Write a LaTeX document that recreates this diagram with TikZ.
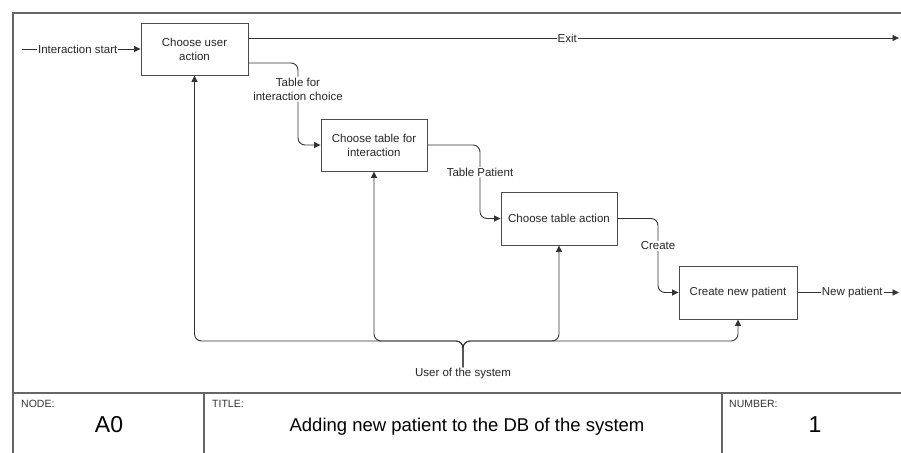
\documentclass[tikz,border=0pt]{standalone}
\usepackage{fontspec}
\setmainfont{Liberation Sans}
\usetikzlibrary{arrows.meta,calc}
\tikzset{
  frame/.style={draw=black!60, line width=1.4pt},
  box/.style={draw=black!70, line width=0.9pt, fill=white, align=center, inner sep=1pt, font=\fontsize{11.5}{14}\selectfont, text=black!85},
  conn/.style={draw=black!80, line width=0.9pt, -{Triangle[length=6.5pt,width=6pt]}},
  lbl/.style={fill=white, inner sep=1pt, align=center, font=\fontsize{11.5}{14.5}\selectfont, text=black!85},
  head/.style={anchor=west, inner sep=0pt, font=\fontsize{10.5}{12}\selectfont, text=black!80},
  big/.style={inner sep=0pt, font=\fontsize{23}{26}\selectfont},
  ttl/.style={inner sep=0pt, font=\fontsize{18.5}{22}\selectfont}
}
\begin{document}
\begin{tikzpicture}[x=1pt,y=-1pt]
\useasboundingbox (0,0) rectangle (901,452);
\clip (0,0) rectangle (901,452);
\fill[white] (0,0) rectangle (901,452);
% outer frame
\draw[frame] (13,470) -- (13,13) -- (920,13);
% boxes
\node[box, minimum width=107pt, minimum height=52pt] (b1) at (194.5,49) {Choose user\\action};
\node[box, minimum width=106pt, minimum height=52pt] (b2) at (374,145) {Choose table for\\interaction};
\node[box, minimum width=116pt, minimum height=53pt] (b3) at (559,218.5) {Choose table action};
\node[box, minimum width=118pt, minimum height=53pt] (b4) at (738,292.5) {Create new patient};
% free ends
\coordinate (s) at (22,49);
\coordinate (exitend) at (899,38);
\coordinate (outend) at (899,292.5);
% inputs / outputs
\draw[conn] (s) -- node[lbl, pos=0.47]{Interaction start} (b1.west);
\draw[conn] (b1.east |- 0,38) -- node[lbl, pos=0.49]{Exit} (exitend);
\draw[conn, rounded corners=7pt] (b1.east |- 0,63) -- (298,63) -- node[lbl, pos=0.32]{Table for\\interaction choice} (298,145) -- (b2.west);
\draw[conn, rounded corners=7pt] (b2.east) -- (480,145) -- node[lbl, pos=0.37]{Table Patient} (480,218.5) -- (b3.west);
\draw[conn, rounded corners=7pt] (b3.east) -- (658,218.5) -- node[lbl, pos=0.37]{Create} (658,292.5) -- (b4.west);
\draw[conn] (b4.east) -- node[lbl, pos=0.54]{New patient} (outend);
% mechanism
\node[lbl] (u) at (463,374) {User of the system};
\coordinate (h) at (463,341);
\draw[conn, rounded corners=7pt] (u.north) -- (h) -| (b1.south);
\draw[conn, rounded corners=7pt] (u.north) -- (h) -| (b4.south);
\draw[conn] (u.north) [rounded corners=7pt] -- (h) -- (b2.south |- h) [sharp corners] -- (b2.south);
\draw[conn] (u.north) [rounded corners=7pt] -- (h) -- (b3.south |- h) [sharp corners] -- (b3.south);
% bottom table
\draw[frame] (13,393) -- (920,393);
\draw[frame] (204,393) -- (204,470);
\draw[frame] (722,393) -- (722,470);
\node[head] (nodelbl) at (21,404) {NODE:};
\node[big] (a0) at (109,425) {A0};
\node[head] (titlelbl) at (212,404) {TITLE:};
\node[ttl] (title) at (467,427) {Adding new patient to the DB of the system};
\node[head] (numlbl) at (729,404) {NUMBER:};
\node[big] (num) at (815,425) {1};
\end{tikzpicture}
\end{document}
